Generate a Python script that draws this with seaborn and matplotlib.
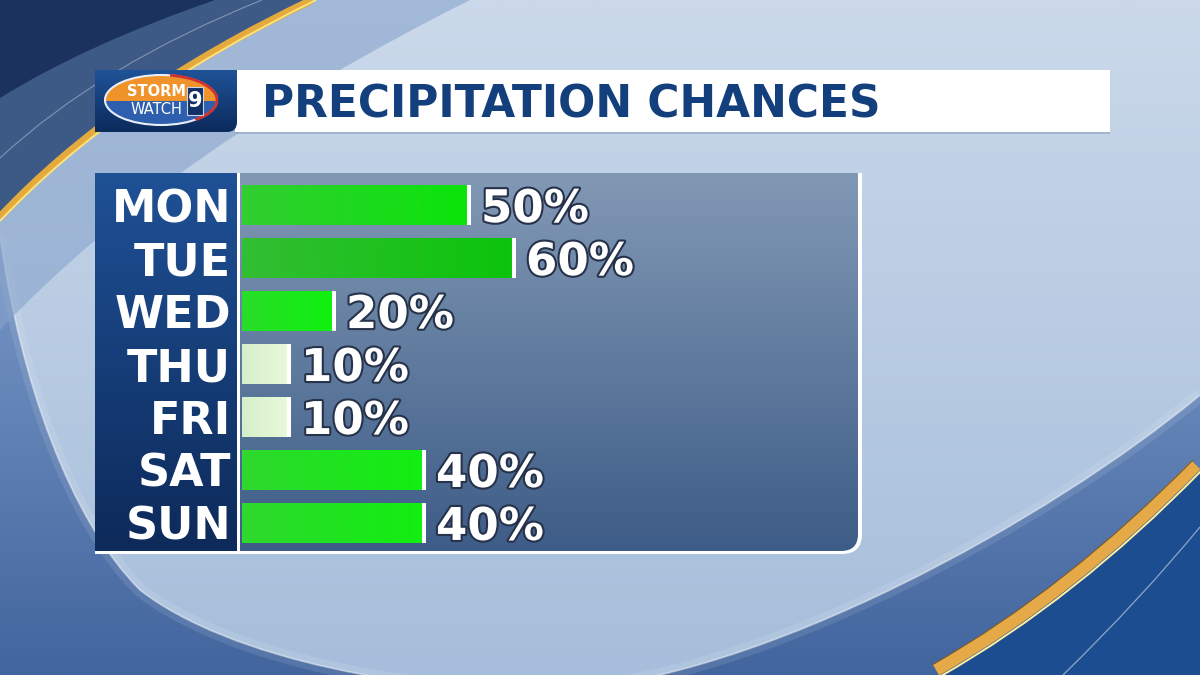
"""
Graphique TV : probabilité de précipitations par jour (barres horizontales).
"""

import numpy as np
import pandas as pd
import matplotlib
matplotlib.use("Agg")
import matplotlib.pyplot as plt
import matplotlib.patheffects as pe
from matplotlib.path import Path
from matplotlib.patches import PathPatch, Rectangle, Ellipse, Arc
from matplotlib.colors import to_rgb
import seaborn as sns

# ── Données ──────────────────────────────────────────────────────────────────
DAYS = ["MON", "TUE", "WED", "THU", "FRI", "SAT", "SUN"]
CHANCES = [50, 60, 20, 10, 10, 40, 40]
TITLE = "PRECIPITATION CHANCES"

# ── Styles ───────────────────────────────────────────────────────────────────
BAR_COLORS = ["#0be40b", "#0cc40c", "#10f010", "#e9f9dc", "#e9f9dc", "#12ee12", "#12ee12"]
BAR_SHADE = [0.5, 0.5, 0.35, 0.15, 0.15, 0.4, 0.4]   # assombrissement à gauche
W, H = 1200, 675
PX_PER_PCT = 4.5
LABEL_SIZE = 32

sns.set_style("white")
plt.rcParams["font.family"] = ["DejaVu Sans"]


def rounded_br(x0, y0, x1, y1, r):
    """Rectangle (coord. pixels, y vers le bas) avec coin bas-droit arrondi."""
    verts = [(x0, y0), (x1, y0), (x1, y1 - r), (x1, y1), (x1 - r, y1), (x0, y1), (x0, y0)]
    codes = [Path.MOVETO, Path.LINETO, Path.LINETO, Path.CURVE3, Path.CURVE3,
             Path.LINETO, Path.CLOSEPOLY]
    return Path(verts, codes)


def gradient(ax, x0, x1, y0, y1, c_top, c_bot, clip=None, z=1, horizontal=False):
    t = np.linspace(0, 1, 256)
    c0, c1 = np.array(to_rgb(c_top)), np.array(to_rgb(c_bot))
    rgb = c0 + (c1 - c0) * t[:, None]
    img = rgb[None, :, :] if horizontal else rgb[:, None, :]
    im = ax.imshow(img, extent=[x0, x1, y1, y0], aspect="auto",
                   interpolation="bilinear", zorder=z)
    if clip is not None:
        im.set_clip_path(clip)
    return im


def clip_patch(ax, path):
    p = PathPatch(path, facecolor="none", edgecolor="none")
    ax.add_patch(p)
    return p


fig = plt.figure(figsize=(12, 6.75), dpi=100)

# ── Fond décoratif ───────────────────────────────────────────────────────────
bg = fig.add_axes([0, 0, 1, 1])
gradient(bg, 0, W, 0, H, "#cbd9ea", "#a6bedb", z=0)

# zone bleue extérieure à l'anneau (bas-gauche / droite)
ring = Path(
    [(0, 235), (20, 380), (70, 520), (140, 590), (230, 660), (420, 695), (560, 690),
     (760, 680), (1050, 520), (1200, 395), (1200, 675), (0, 675), (0, 235)],
    [Path.MOVETO] + [Path.CURVE4] * 9 + [Path.LINETO, Path.LINETO, Path.CLOSEPOLY])
gradient(bg, 0, W, 235, H, "#7898c6", "#42659e", clip=clip_patch(bg, ring), z=1)
ring_line = Path(ring.vertices[:10], [Path.MOVETO] + [Path.CURVE4] * 9)
bg.add_patch(PathPatch(ring_line, facecolor="none", edgecolor="white", lw=10, alpha=0.10, zorder=2))
bg.add_patch(PathPatch(ring_line, facecolor="none", edgecolor="white", lw=1.3, alpha=0.45, zorder=2))

# coin haut-gauche : bande claire, bande ardoise, coin marine, filet doré
bg.add_patch(PathPatch(Path([(0, 0), (0, 330), (170, 150), (470, 0), (0, 0)],
                            [Path.MOVETO, Path.LINETO, Path.CURVE3, Path.CURVE3, Path.CLOSEPOLY]),
                       facecolor="#87a3cb", edgecolor="none", alpha=0.6, zorder=3))
bg.add_patch(PathPatch(Path([(0, 0), (0, 215), (115, 92), (310, 0), (0, 0)],
                            [Path.MOVETO, Path.LINETO, Path.CURVE3, Path.CURVE3, Path.CLOSEPOLY]),
                       facecolor="#3d5a87", edgecolor="none", zorder=4))
bg.add_patch(PathPatch(Path([(0, 0), (0, 98), (85, 45), (215, 0), (0, 0)],
                            [Path.MOVETO, Path.LINETO, Path.CURVE3, Path.CURVE3, Path.CLOSEPOLY]),
                       facecolor="#1a325c", edgecolor="none", zorder=5))
bg.add_patch(PathPatch(Path([(0, 158), (100, 65), (262, 0)], [Path.MOVETO, Path.CURVE3, Path.CURVE3]),
                       facecolor="none", edgecolor="white", lw=0.8, alpha=0.35, zorder=5))
bg.add_patch(PathPatch(Path([(0, 217), (115, 94), (312, 0)], [Path.MOVETO, Path.CURVE3, Path.CURVE3]),
                       facecolor="none", edgecolor="#e4aa3c", lw=5.5, zorder=6))
bg.add_patch(PathPatch(Path([(0, 221), (117, 97), (316, 0)], [Path.MOVETO, Path.CURVE3, Path.CURVE3]),
                       facecolor="none", edgecolor="#fbe27e", lw=1.4, zorder=6))

# coin bas-droit : bleu profond + filet doré
bg.add_patch(PathPatch(Path([(940, 675), (1075, 598), (1200, 470), (1200, 675), (940, 675)],
                            [Path.MOVETO, Path.CURVE3, Path.CURVE3, Path.LINETO, Path.CLOSEPOLY]),
                       facecolor="#1c4d90", edgecolor="none", zorder=3))
bg.add_patch(PathPatch(Path([(1063, 675), (1140, 600), (1200, 527)], [Path.MOVETO, Path.CURVE3, Path.CURVE3]),
                       facecolor="none", edgecolor="white", lw=0.9, alpha=0.5, zorder=4))
bg.add_patch(PathPatch(Path([(936, 670), (1071, 593), (1196, 465)], [Path.MOVETO, Path.CURVE3, Path.CURVE3]),
                       facecolor="none", edgecolor="#e6a947", lw=9, zorder=5))
bg.add_patch(PathPatch(Path([(932, 665), (1067, 588), (1193, 460)], [Path.MOVETO, Path.CURVE3, Path.CURVE3]),
                       facecolor="none", edgecolor="#7a5a2a", lw=0.8, zorder=6))
bg.add_patch(PathPatch(Path([(941, 676), (1076, 599), (1201, 471)], [Path.MOVETO, Path.CURVE3, Path.CURVE3]),
                       facecolor="none", edgecolor="#fff0a0", lw=1.4, zorder=6))

# ── Bandeau titre + logo ─────────────────────────────────────────────────────
bg.add_patch(Rectangle((235, 72), 875, 62, facecolor="#8ea2bd", edgecolor="none", alpha=0.6, zorder=7))
bg.add_patch(Rectangle((235, 70), 875, 62, facecolor="white", edgecolor="none", zorder=8))
logo_box = clip_patch(bg, rounded_br(95, 70, 237, 132, 10))
gradient(bg, 95, 237, 70, 132, "#1f5398", "#0c2a5c", clip=logo_box, z=9)
bg.text(262, 118, TITLE, ha="left", va="baseline", fontsize=31.6, fontweight="bold",
        color="#133f7d", zorder=10)

oval = Ellipse((161, 100), 112, 50, facecolor="#f0932b", edgecolor="none", zorder=10)
bg.add_patch(oval)
lower = Rectangle((100, 101), 125, 30, facecolor="#2d5fae", edgecolor="none", zorder=11)
bg.add_patch(lower)
lower.set_clip_path(oval)
bg.add_patch(Ellipse((161, 100), 112, 50, facecolor="none", edgecolor="#e8eef8", lw=1.5, zorder=12))
bg.add_patch(Arc((161, 100), 112, 50, theta1=-70, theta2=30, color="#d0312d", lw=2, zorder=12))
bg.text(157, 92, "STORM", ha="center", va="center", fontsize=10.5, fontweight="bold",
        color="white", zorder=13)
bg.text(156, 109, "WATCH", ha="center", va="center", fontsize=10.5, color="white", zorder=13)
bg.add_patch(Rectangle((187, 87), 16, 28, facecolor="#0f2f66", edgecolor="#c8d4e6", lw=0.8, zorder=13))
bg.text(195, 101, "9", ha="center", va="center", fontsize=15, fontweight="bold",
        color="white", zorder=14)

# ── Panneau du graphique ─────────────────────────────────────────────────────
bg.add_patch(PathPatch(rounded_br(95, 173, 862, 554, 20), facecolor="white", edgecolor="none", zorder=7))
gradient(bg, 95, 237, 173, 551, "#1f5196", "#0d2a5a", z=8)
plot_area = clip_patch(bg, rounded_br(240, 173, 858, 551, 17))
gradient(bg, 240, 858, 173, 551, "#8299b5", "#3d5c87", clip=plot_area, z=8)

bg.set_xlim(0, W)
bg.set_ylim(H, 0)
bg.axis("off")

# ── Barres (seaborn) ─────────────────────────────────────────────────────────
df = pd.DataFrame({"day": DAYS, "chance": CHANCES})
ax = fig.add_axes([242 / W, 1 - 551 / H, (858 - 242) / W, (551 - 173) / H])
ax.set_facecolor("none")
sns.barplot(data=df, x="chance", y="day", hue="day", palette=BAR_COLORS,
            orient="h", width=0.76, saturation=1, linewidth=0, legend=False, ax=ax)

x_max = (858 - 242) / PX_PER_PCT

# dégradé sur chaque barre (plus sombre à gauche)
for patch, strength in zip(ax.patches, BAR_SHADE):
    shade = np.zeros((1, 64, 4))
    shade[..., :3] = to_rgb("#5ab85a")
    shade[..., 3] = np.linspace(strength, 0.0, 64)
    x0, y0 = patch.get_x(), patch.get_y()
    im = ax.imshow(shade, extent=[x0, x0 + patch.get_width(), y0 + patch.get_height(), y0],
                   aspect="auto", interpolation="bilinear", zorder=patch.get_zorder() + 0.1)
    im.set_clip_path(patch)

ypos = np.arange(len(DAYS))
ax.vlines(np.array(CHANCES) + 0.45, ypos - 0.38, ypos + 0.38, colors="white", lw=2.9, zorder=5)

outline = [pe.withStroke(linewidth=3, foreground="#26324a")]
for y, v in zip(ypos, CHANCES):
    ax.text(v + 3.1, y, f"{v}%", ha="left", va="center_baseline", fontsize=LABEL_SIZE + 0.5,
            fontweight="bold", color="white", path_effects=outline, zorder=6)

ax.set_xlim(0, x_max)
ax.set_ylim(6.53, -0.606)
ax.set_xticks([])
ax.set_xlabel("")
ax.set_ylabel("")
ax.tick_params(axis="y", length=0, pad=7.9, labelsize=LABEL_SIZE, labelcolor="white")
for lbl in ax.get_yticklabels():
    lbl.set_fontweight("bold")
for side in ax.spines.values():
    side.set_visible(False)

fig.savefig("out.png", dpi=100)
plt.close(fig)
